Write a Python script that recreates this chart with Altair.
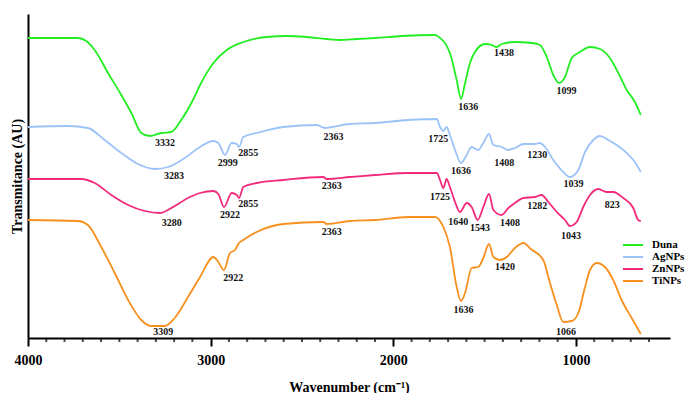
import altair as alt
import pandas as pd

series_names = ["Duna", "AgNPs", "ZnNPs", "TiNPs"]
series_colors = ["#22ee22", "#9cc3f7", "#f22a7c", "#f7901e"]

duna_wn = [4000, 3726, 3681, 3635, 3562, 3489, 3434, 3380, 3334, 3270, 3215, 3161, 3097, 3058, 2985, 2912,
           2821, 2693, 2584, 2474, 2365, 2292, 2200, 2100, 1954, 1772, 1744, 1717, 1690, 1653, 1629, 1607,
           1580, 1553, 1498, 1461, 1434, 1407, 1334, 1242, 1197, 1160, 1124, 1093, 1060, 1023, 978, 923,
           868, 814, 768, 722, 677, 645]
duna_t = [300, 300, 297, 288, 265, 243, 225, 205, 202, 205, 206, 218, 238, 253, 275, 288,
          296, 301, 302, 301, 299, 298, 299, 300, 302, 303, 300, 295, 285, 258, 239, 255,
          275, 286, 294, 293, 291, 294, 296, 295, 293, 281, 263, 255, 261, 280, 286, 291,
          289, 280, 265, 248, 236, 223]

ag_wn = [4000, 3781, 3672, 3580, 3489, 3398, 3306, 3233, 3142, 3058, 2985, 2958, 2921, 2885, 2857, 2845,
         2821, 2748, 2602, 2419, 2374, 2337, 2237, 2100, 1918, 1762, 1744, 1726, 1708, 1690, 1662, 1629,
         1604, 1571, 1535, 1507, 1476, 1452, 1407, 1374, 1334, 1288, 1224, 1197, 1169, 1124, 1069, 1033,
         987, 950, 905, 868, 823, 777, 722, 677, 645]
ag_t = [211, 212, 210, 198, 185, 174, 169, 171, 180, 191, 197, 195, 183, 195, 194, 191,
        201, 205, 211, 213, 210, 211, 214, 215, 218, 219, 211, 207, 211, 203, 188, 175,
        181, 191, 188, 195, 204, 193, 191, 188, 190, 194, 194, 195, 191, 178, 166, 161,
        168, 186, 198, 202, 198, 193, 185, 176, 166]

zn_wn = [4000, 3708, 3635, 3544, 3452, 3361, 3279, 3215, 3124, 3058, 2985, 2958, 2927, 2885, 2857, 2845,
         2821, 2748, 2602, 2383, 2365, 2237, 2100, 1918, 1762, 1744, 1726, 1708, 1690, 1662, 1635, 1598,
         1571, 1538, 1507, 1476, 1452, 1407, 1370, 1334, 1288, 1224, 1188, 1151, 1105, 1060, 1033, 996,
         960, 923, 878, 832, 796, 741, 686, 659, 645]
zn_t = [159, 159, 155, 143, 133, 127, 125, 130, 140, 145, 147, 144, 131, 145, 143, 140,
        151, 155, 158, 161, 159, 161, 163, 165, 165, 158, 150, 159, 151, 136, 126, 135,
        131, 118, 131, 144, 128, 123, 130, 135, 140, 141, 143, 136, 126, 118, 112, 116,
        131, 143, 149, 146, 146, 140, 130, 118, 117]

ti_wn = [4000, 3726, 3672, 3599, 3525, 3452, 3380, 3325, 3252, 3197, 3124, 3058, 2985, 2958, 2927, 2894,
         2867, 2845, 2821, 2748, 2602, 2383, 2365, 2237, 2100, 1918, 1772, 1726, 1690, 1653, 1629, 1607,
         1571, 1535, 1507, 1476, 1452, 1416, 1379, 1334, 1288, 1247, 1179, 1142, 1105, 1069, 1023, 987,
         950, 923, 886, 841, 796, 750, 695, 645]
ti_t = [118, 117, 113, 91, 65, 38, 18, 12, 12, 20, 41, 61, 81, 76, 68, 85,
        88, 95, 98, 106, 114, 116, 114, 117, 118, 121, 121, 111, 91, 51, 37, 45,
        70, 71, 80, 94, 81, 78, 81, 90, 95, 89, 78, 55, 33, 16, 17, 25,
        51, 68, 75, 71, 58, 38, 20, 4]

peak_labels = ["3332", "1636", "1438", "1099",
               "3283", "2999", "2855", "2363", "1725", "1636", "1408", "1230", "1039",
               "3280", "2922", "2855", "2363", "1725", "1640", "1543", "1408", "1282", "1043", "823",
               "3309", "2922", "2363", "1636", "1420", "1066"]
peak_wn = [3250, 1589, 1394, 1051,
           3201, 2907, 2794, 2328, 1754, 1629, 1392, 1212, 1014,
           3213, 2894, 2794, 2337, 1744, 1644, 1525, 1361, 1212, 1027, 801,
           3259, 2876, 2337, 1616, 1388, 1054]
peak_t = [195, 231, 285, 247,
          162, 175, 185, 201, 199, 167, 175, 183, 154,
          115, 123, 134, 152, 141, 116, 110, 115, 132, 102, 133,
          6, 60, 106, 28, 71, 6]

major_ticks = [4000, 3000, 2000, 1000]
minor_ticks = [v for v in range(4000, 599, -100) if v % 1000 != 0]

frames = []
for name, wn, t in [("Duna", duna_wn, duna_t), ("AgNPs", ag_wn, ag_t),
                    ("ZnNPs", zn_wn, zn_t), ("TiNPs", ti_wn, ti_t)]:
    frames.append(pd.DataFrame({"wn": wn, "t": t, "series": name, "order": range(len(wn))}))
lines_df = pd.concat(frames, ignore_index=True)
peaks_df = pd.DataFrame({"wn": peak_wn, "t": peak_t, "label": peak_labels})
minor_df = pd.DataFrame({"wn": minor_ticks})

FONT = "Liberation Serif"
x_scale = alt.Scale(domain=[4000, 485], nice=False, zero=False)

x_enc = alt.X("wn:Q", scale=x_scale,
              axis=alt.Axis(values=major_ticks, format="d", labelOverlap=False,
                            tickSize=8, tickWidth=2, tickColor="black",
                            domainColor="black", domainWidth=2,
                            grid=False, labelFont=FONT, labelFontSize=14, labelFontWeight="bold",
                            labelColor="black", labelPadding=7, labelFlush=False,
                            title="Wavenumber (cm⁻¹)", titleFont=FONT, titleFontSize=14,
                            titleFontWeight="bold", titleColor="black", titlePadding=13))
y_enc = alt.Y("t:Q",
              scale=alt.Scale(domain=[0, 324], nice=False, zero=False),
              axis=alt.Axis(ticks=False, labels=False, grid=False, domainColor="black", domainWidth=2,
                            title="Transmitance (AU)", titleFont=FONT, titleFontSize=14,
                            titleFontWeight="bold", titleColor="black", titlePadding=4))

lines = alt.Chart(lines_df).mark_line(strokeWidth=1.8, interpolate="monotone").encode(
    x=x_enc, y=y_enc,
    color=alt.Color("series:N",
                    scale=alt.Scale(domain=series_names, range=series_colors),
                    legend=alt.Legend(title=None, orient="none", legendX=599, legendY=225,
                                      padding=0, symbolType="M-2,0H2", symbolSize=100,
                                      symbolStrokeWidth=2, symbolFillColor="transparent",
                                      labelFont=FONT, labelFontSize=11, labelFontWeight="bold",
                                      labelColor="black", labelOffset=13, rowPadding=1)),
    order="order:Q",
)

minor = alt.Chart(minor_df).mark_tick(color="black", thickness=2, size=4, orient="vertical").encode(
    x=alt.X("wn:Q", scale=x_scale), y=alt.value(326))

texts = alt.Chart(peaks_df).mark_text(font=FONT, fontSize=10, fontWeight="bold", color="#111111").encode(
    x="wn:Q", y="t:Q", text="label:N")

chart = alt.layer(lines, minor, texts).properties(
    width=642, height=324,
    autosize=alt.AutoSizeParams(type="none"),
    padding={"left": 20, "top": 6, "right": 18, "bottom": 55},
).configure_view(stroke=None)

chart.save("out.html", embed_options={"renderer": "svg", "actions": False})
